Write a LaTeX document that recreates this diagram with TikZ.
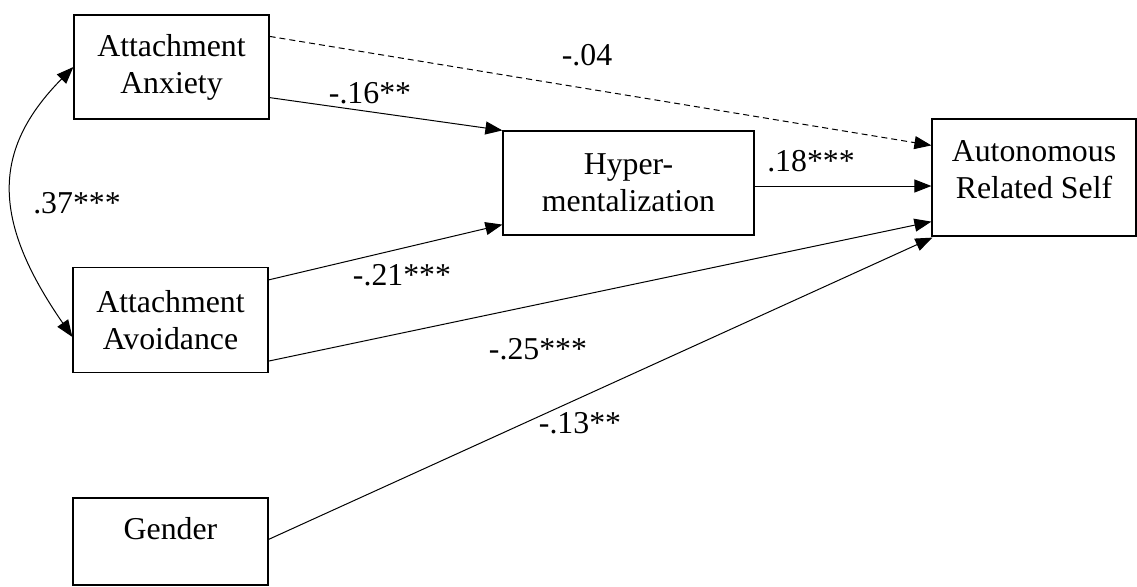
\documentclass[tikz,border=0pt]{standalone}
\usepackage{fontspec}
\setmainfont{Liberation Serif}
\usetikzlibrary{arrows.meta}
\begin{document}
\begin{tikzpicture}[x=1pt,y=-1pt,
  box/.style={draw, line width=1.2pt, inner sep=0pt, align=center, font=\fontsize{31.8}{37}\selectfont},
  lab/.style={inner sep=0pt, font=\fontsize{31.8}{37}\selectfont},
  path/.style={line width=1pt, -{Triangle[length=17pt,width=13pt]}}]
\useasboundingbox (0,0) rectangle (1137,586);
\node[box, minimum width=195pt, minimum height=104pt] (anx) at (171.5,67) {Attachment\\Anxiety};
\node[box, minimum width=195pt, minimum height=105pt] (avo) at (170.5,320) {Attachment\\Avoidance};
\node[box, minimum width=195pt, minimum height=87pt] (gen) at (170.5,541.5) {Gender\\[-10pt]~};
\node[box, minimum width=251pt, minimum height=104pt] (hyp) at (628.5,183) {Hyper-\\mentalization};
\node[box, minimum width=204pt, minimum height=117pt] (ars) at (1034,177.5) {Autonomous\\Related Self\\[-22pt]~};
% paths
\draw[path, dashed, dash pattern=on 6pt off 4pt] ([yshift=-22pt]anx.north east) -- ([yshift=-27pt]ars.north west);
\draw[path] ([yshift=22pt]anx.south east) -- (hyp.north west);
\draw[path] ([yshift=-3pt]hyp.east) -- ([yshift=-3pt]hyp.east -| ars.west);
\draw[path] ([yshift=-13pt]avo.north east) -- ([yshift=11pt]hyp.south west);
\draw[path] ([yshift=12pt]avo.south east) -- ([yshift=15pt]ars.south west);
\draw[path] ([yshift=-42pt]gen.north east) -- ([xshift=1pt,yshift=-1pt]ars.south west);
\draw[line width=1pt, {Triangle[length=17pt,width=13pt]}-{Triangle[length=17pt,width=13pt]}]
  (anx.west) .. controls (-8.5,150) and (-8.5,220) .. ([yshift=-17pt]avo.west);
% labels
\node[lab] (l37) at (77,203) {.37***};
\node[lab] (l04) at (587,55) {-.04};
\node[lab] (l16) at (370,93) {-.16**};
\node[lab] (l18) at (811,161) {.18***};
\node[lab] (l21) at (402,275) {-.21***};
\node[lab] (l25) at (538,349) {-.25***};
\node[lab] (l13) at (580,423) {-.13**};
\end{tikzpicture}
\end{document}
